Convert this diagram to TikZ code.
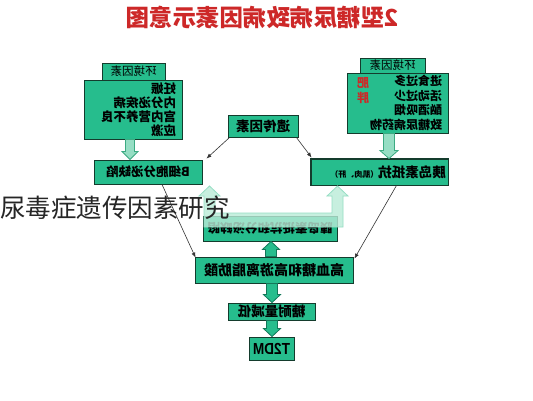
\documentclass[tikz,border=0pt]{standalone}
\usepackage{fontspec}
\usepackage{graphicx}
\newfontfamily\cjk{Noto Sans CJK SC}
\newfontfamily\lsans{Liberation Sans}
\usetikzlibrary{calc,arrows.meta}
\definecolor{boxfill}{RGB}{38,189,141}
\definecolor{boxline}{RGB}{20,60,45}
\definecolor{lightar}{RGB}{150,222,196}
\definecolor{lightedge}{RGB}{60,170,130}
\definecolor{titlered}{RGB}{205,40,40}
\definecolor{ovl}{RGB}{185,235,215}
\definecolor{darkar}{RGB}{20,120,90}
\newcommand{\mir}[1]{\reflectbox{#1}}
\newcommand{\fs}[2]{\fontsize{#1}{#2}\selectfont}
% style, x, from, to, half shaft, signed head length, half head width
\newcommand{\blockarr}[7]{%
  \path[#1] let \p1=(#3), \p2=(#4) in
   ({#2-#5},\y1) -- ({#2-#5},{\y2+(#6)}) -- ({#2-#7},{\y2+(#6)}) -- (#2,\y2)
   -- ({#2+#7},{\y2+(#6)}) -- ({#2+#5},{\y2+(#6)}) -- ({#2+#5},\y1) -- cycle;}
\tikzset{
  box/.style={draw=boxline, fill=boxfill, line width=0.9pt, inner sep=0pt,
    font=\cjk\bfseries, text=black},
  tabbox/.style={box, font=\cjk\fs{11.5}{13}},
  conn/.style={draw=black!80, line width=0.6pt, -{Latex[length=5pt,width=4pt]}},
  lightarrow/.style={fill=lightar, draw=lightedge, line width=0.8pt},
  darkarrow/.style={fill=boxfill, draw=darkar, line width=0.8pt},
}
\begin{document}
\begin{tikzpicture}[x=1pt,y=-1pt]
\useasboundingbox[fill=white] (0,0) rectangle (533,400);

% title
\node[font=\cjk\bfseries\fs{23.5}{26}, text=titlered] (title) at (262,17)
  {\mir{2型糖尿病致病因素示意图}};

% left environment block
\node[box, minimum width=98pt, minimum height=59pt, text width=86pt, align=right,
  font=\cjk\bfseries\fs{12.5}{14}] (envL) at (133,109.5)
  {\mir{妊娠}\\\mir{内分泌疾病}\\\mir{宫内营养不良}\\\mir{应激}};
\node[tabbox, minimum width=63pt, minimum height=17pt] (envLtab) at (133.5,71.5) {\mir{环境因素}};

% right environment block
\node[box, minimum width=101pt, minimum height=60pt, text width=89pt, align=right,
  font=\cjk\bfseries\fs{12}{14.5}] (envR) at (397.5,103)
  {\mir{进食过多}\\\mir{活动过少}\\\mir{酗酒吸烟}\\\mir{致糖尿病药物}};
\node[tabbox, minimum width=65pt, minimum height=15pt] (envRtab) at (392.5,65.5) {\mir{环境因素}};
\node[font=\cjk\bfseries\fs{12}{15}, text=titlered, align=center, inner sep=0pt] (fat) at (363,91)
  {\mir{肥}\\\mir{胖}};

% genetic factor
\node[box, minimum width=70pt, minimum height=22pt, font=\cjk\bfseries\fs{13.5}{15}] (gene) at (263,126) {\mir{遗传因素}};

% beta-cell defect
\node[box, minimum width=108pt, minimum height=24pt, font=\cjk\bfseries\fs{12.5}{14}] (beta) at (148,172) {\mir{B细胞分泌缺陷}};

% insulin resistance (text clipped by box)
\node[box, minimum width=137pt, minimum height=26pt] (insR) at (379.5,172) {};
\begin{scope}
  \clip (insR.south west) rectangle (insR.north east);
  \node[anchor=east, inner sep=0pt, font=\cjk\bfseries] (insRtext) at (446,172)
    {\mir{\fs{13.5}{15}胰岛素抵抗\fs{8}{10}（肌肉、肝）}};
\end{scope}
\draw[draw=boxline, line width=0.9pt] (insR.south west) rectangle (insR.north east);

% combined box (flipped text)
\node[box, minimum width=134pt, minimum height=25pt, font=\cjk\bfseries\fs{12.5}{14}] (mid) at (270,228.5)
  {\rotatebox{180}{胰岛素抵抗和分泌缺陷}};

% hyperglycaemia
\node[box, minimum width=158pt, minimum height=26pt, font=\cjk\bfseries\fs{14}{16}] (hyper) at (274,270) {\mir{高血糖和高游离脂肪酸}};

% IGT
\node[box, minimum width=87pt, minimum height=17pt, font=\cjk\bfseries\fs{13.5}{15}] (igt) at (271.5,311.5) {\mir{糖耐量减低}};

% T2DM
\node[box, minimum width=45pt, minimum height=23pt, font=\lsans\bfseries\fs{16}{18}] (t2dm) at (271.5,348.5) {\scalebox{-0.85}[1]{T2DM}};

% block arrows
\blockarr{lightarrow}{130pt}{envL.south}{beta.north}{4.5pt}{8pt}{8pt}
\blockarr{lightarrow}{389pt}{envR.south}{insR.north}{5.5pt}{8pt}{9pt}
\blockarr{darkarrow}{271pt}{hyper.north}{mid.south}{5.5pt}{-8pt}{8.5pt}
\blockarr{darkarrow}{272pt}{hyper.south}{igt.north}{5.5pt}{8pt}{8.5pt}
\blockarr{darkarrow}{272pt}{igt.south}{t2dm.north}{5.5pt}{8pt}{8.5pt}

% thin connectors
\draw[conn] ([xshift=2pt]gene.south west) -- ([xshift=4pt,yshift=1pt]beta.north east);
\draw[conn] ([xshift=-2pt]gene.south east) -- ([xshift=1pt,yshift=1pt]insR.north west);
\draw[conn] ([xshift=14pt]beta.south) -- ([xshift=1pt,yshift=-1pt]hyper.north west);
\draw[conn] ([xshift=17pt]insR.south) -- ([xshift=1pt,yshift=-2pt]hyper.north east);

% translucent U-shaped overlay arrow
\path[fill=ovl, fill opacity=0.8, draw=lightar, line width=0.8pt]
  (204,227) -- (204,196) -- (199,196) -- (209.5,186) -- (220,196) -- (215,196)
  -- (215,213) -- (332,213) -- (332,196) -- (327,196) -- (337.5,186) -- (348,196)
  -- (343,196) -- (343,227) -- cycle;

% overlay caption
\node[anchor=west, inner sep=0pt, font=\cjk\fs{25.5}{28}, text=black!85] (caption) at (0,208)
  {尿毒症遗传因素研究};
\end{tikzpicture}
\end{document}
